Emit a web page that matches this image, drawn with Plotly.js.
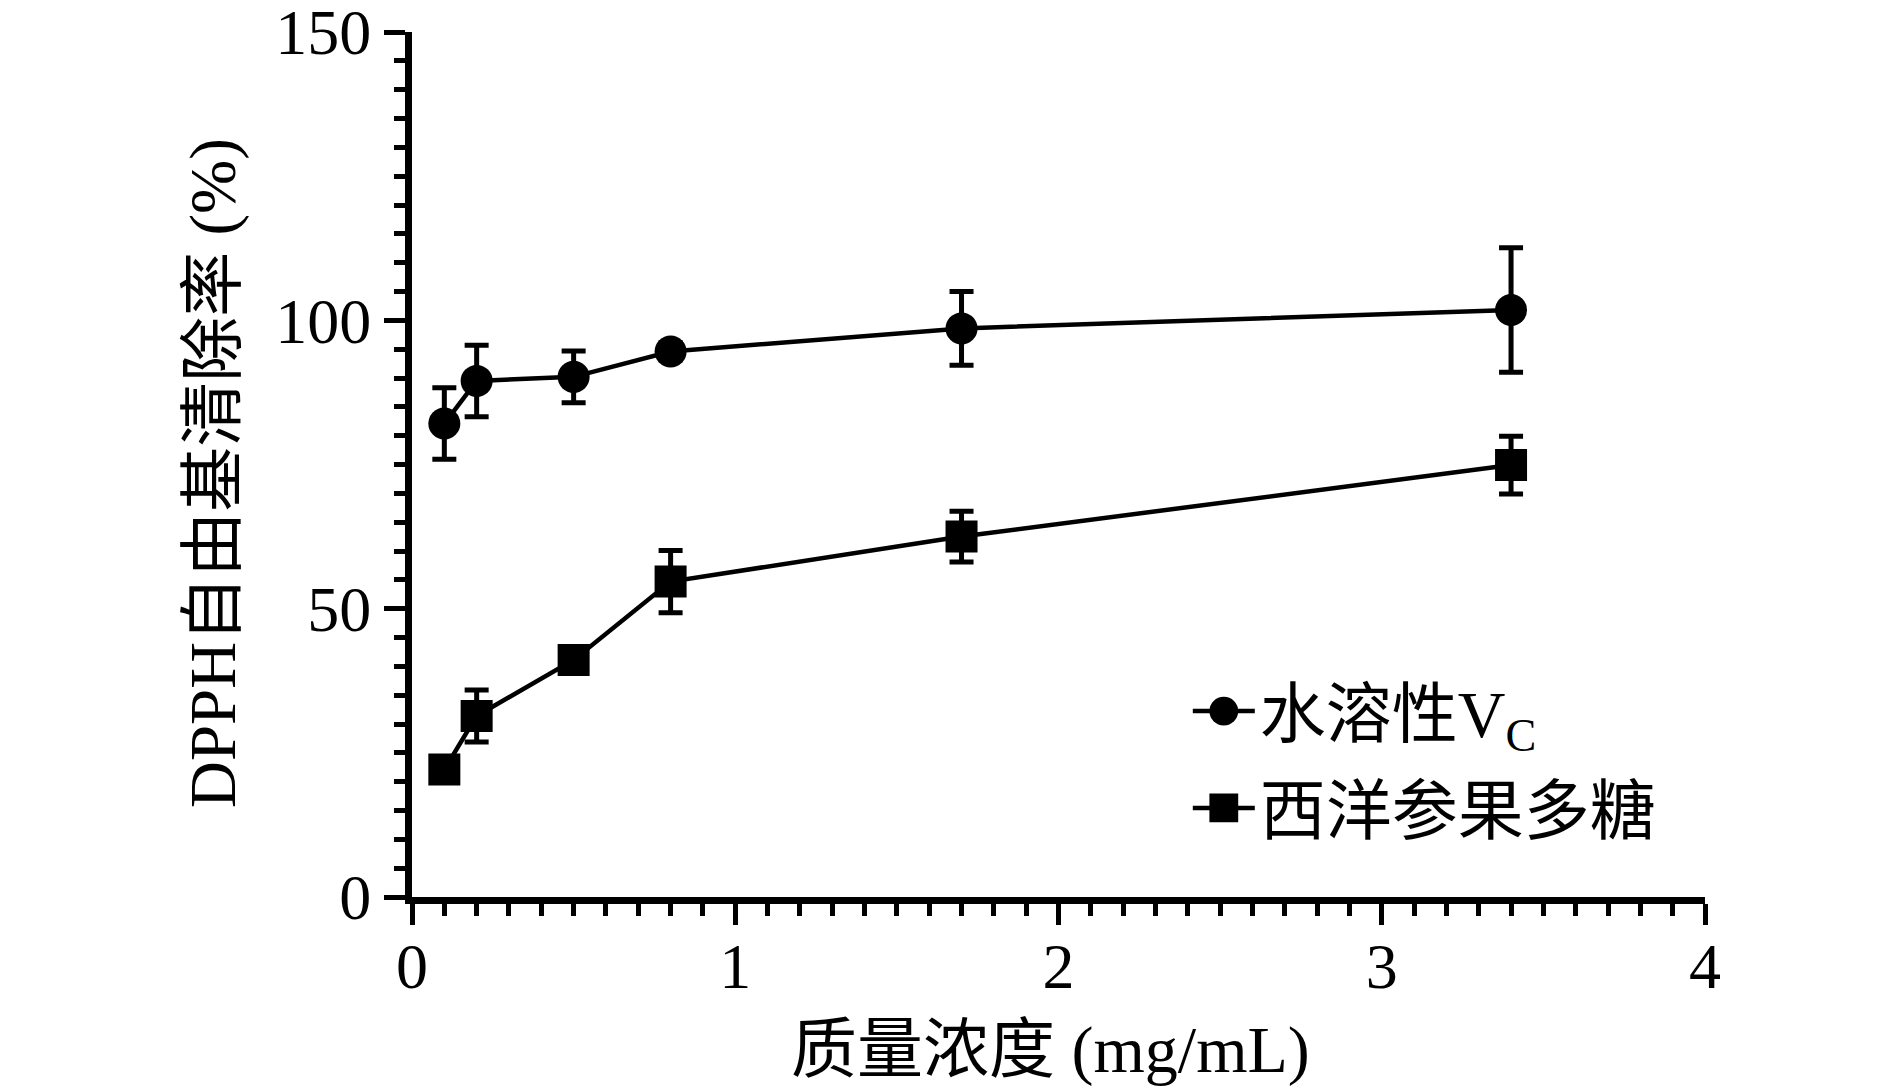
<!DOCTYPE html>
<html>
<head>
<meta charset="utf-8">
<script src="https://cdn.plot.ly/plotly-3.0.1.min.js"></script>
<style>html,body{margin:0;padding:0;background:#fff;}#chart{width:1890px;height:1090px;}</style>
</head>
<body>
<div id="chart"></div>
<script>
// Data
const concentration = [0.1, 0.2, 0.5, 0.8, 1.7, 3.4];            // mg/mL
const vcValues      = [82.1, 89.5, 90.2, 94.6, 98.6, 101.8];     // %
const vcErrors      = [6.2, 6.2, 4.5, 1.5, 6.4, 10.8];
const pqValues      = [22.1, 31.4, 41.1, 54.7, 62.5, 74.9];      // %
const pqErrors      = [1.5, 4.5, 1.5, 5.4, 4.4, 5.0];
const seriesNames   = ['水溶性V<sub>C</sub>', '西洋参果多糖'];
const xTickVals     = [0, 1, 2, 3, 4];
const yTickVals     = [0, 50, 100, 150];
const xTitle        = '质量浓度 (mg/mL)';
const yTitle        = 'DPPH自由基清除率 (%)';

const FONT = "'Liberation Serif', 'Times New Roman', 'Noto Sans CJK SC', serif";

function makeTrace(y, err, name, symbol, group) {
  return {
    type: 'scatter', mode: 'lines+markers',
    x: concentration, y: y, name: name, legendgroup: group,
    line: {color: '#000', width: 4.5},
    marker: {symbol: symbol, size: 32, color: '#000'},
    error_y: {type: 'data', array: err, visible: true, color: '#000', thickness: 5, width: 12},
    cliponaxis: false
  };
}

const traces = [
  makeTrace(vcValues, vcErrors, seriesNames[0], 'circle', 'a'),
  makeTrace(pqValues, pqErrors, seriesNames[1], 'square', 'b')
];

const axisCommon = {
  showgrid: false, zeroline: false, showline: true, linecolor: '#000', linewidth: 7,
  ticks: 'outside', tickcolor: '#000', tickwidth: 5, ticklen: 21,
  ticklabeloverflow: 'allow',
  tickfont: {family: FONT, size: 64, color: '#000'}
};

const layout = {
  width: 1890, height: 1090,
  paper_bgcolor: '#fff', plot_bgcolor: '#fff',
  margin: {l: 412, r: 185, t: 32, b: 193},
  font: {family: FONT, color: '#000'},
  xaxis: Object.assign({}, axisCommon, {
    range: [0, 4], tickmode: 'array', tickvals: xTickVals, ticktext: xTickVals.map(String),
    ticklabelstandoff: -14,
    minor: {dtick: 0.1, ticks: 'outside', ticklen: 12, tickwidth: 5, tickcolor: '#000', showgrid: false}
  }),
  yaxis: Object.assign({}, axisCommon, {
    range: [0, 150], tickmode: 'array', tickvals: yTickVals, ticktext: yTickVals.map(String),
    minor: {dtick: 5, ticks: 'outside', ticklen: 11, tickwidth: 5, tickcolor: '#000', showgrid: false}
  }),
  showlegend: true,
  legend: {
    x: 0.6, y: 0.272, xanchor: 'left', yanchor: 'top',
    bgcolor: 'rgba(0,0,0,0)', font: {family: FONT, size: 66, color: '#000'},
    traceorder: 'grouped', tracegroupgap: 8, itemwidth: 62
  },
  annotations: [
    {text: xTitle, xref: 'paper', yref: 'paper', x: 0.494, y: -0.177, xanchor: 'center', yanchor: 'middle',
     showarrow: false, font: {family: FONT, size: 66, color: '#000'}},
    {text: yTitle, xref: 'paper', yref: 'paper', x: -0.154, y: 0.490, xanchor: 'center', yanchor: 'middle',
     textangle: -90, showarrow: false, font: {family: FONT, size: 65, color: '#000'}}
  ]
};

Plotly.newPlot('chart', traces, layout, {staticPlot: true}).then(function (gd) {
  // enlarge legend symbols (Plotly caps them at 16px)
  gd.querySelectorAll('.legend .legendpoints path.scatterpts').forEach(function (p) {
    const t = p.getAttribute('transform') || '';
    p.setAttribute('transform', t + ' scale(1.8)');
  });
});
</script>
</body>
</html>
